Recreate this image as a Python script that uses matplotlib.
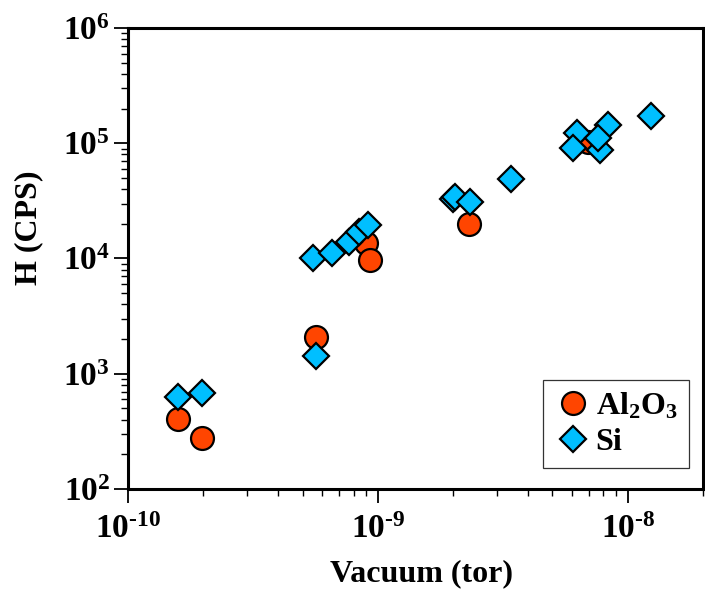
import matplotlib
matplotlib.use("Agg")
from matplotlib import pyplot as plt
from matplotlib.ticker import FuncFormatter, NullFormatter
import numpy as np

# values (vacuum in tor, H in counts per second)
al2o3_x = [1.58e-10, 1.98e-10, 5.68e-10, 9.0e-10, 9.29e-10, 2.31e-9, 6.94e-9]
al2o3_y = [405, 279, 2095, 1.35e4, 9.7e3, 2.01e4, 1.03e5]

si_x = [1.58e-10, 1.98e-10, 5.68e-10, 5.51e-10, 6.53e-10, 7.68e-10, 8.39e-10,
        9.15e-10, 2.0e-9, 2.03e-9, 2.33e-9, 3.4e-9, 6.24e-9, 6.04e-9,
        8.34e-9, 7.73e-9, 7.61e-9, 1.245e-8]
si_y = [632, 684, 1432, 1.0e4, 1.11e4, 1.40e4, 1.69e4,
        1.95e4, 3.3e4, 3.43e4, 3.1e4, 4.85e4, 1.22e5, 9.02e4,
        1.44e5, 8.71e4, 1.10e5, 1.72e5]

x_ticks = [1e-10, 1e-9, 1e-8]
y_ticks = [1e2, 1e3, 1e4, 1e5, 1e6]

plt.rcParams['font.family'] = ['Liberation Serif', 'DejaVu Serif']
plt.rcParams['font.weight'] = 'bold'
plt.rcParams['mathtext.fontset'] = 'custom'
plt.rcParams['mathtext.rm'] = 'Liberation Serif:bold'
plt.rcParams['mathtext.it'] = 'Liberation Serif:bold'
plt.rcParams['mathtext.bf'] = 'Liberation Serif:bold'
plt.rcParams['mathtext.default'] = 'rm'


def pow10(v, pos):
    e = int(round(np.log10(v)))
    if e < 0:
        # plain hyphen like the original, not a math minus
        return r'$10^{\text{-%d}}$' % (-e)
    return r'$10^{%d}$' % e


fig = plt.figure(figsize=(7.05, 5.92), dpi=100)
ax = fig.add_axes([0.1816, 0.174, 0.8154, 0.7787])

ax.plot(al2o3_x, al2o3_y, 'o', ms=16.5, mfc='#FF4500', mec='black', mew=1.6,
        label='Al$_2$O$_3$', zorder=3)
ax.plot(si_x, si_y, 'D', ms=13.5, mfc='#00BFFF', mec='black', mew=1.6,
        label='Si', zorder=4)

ax.set_xscale('log')
ax.set_yscale('log')
ax.set_xticks(x_ticks)
ax.set_yticks(y_ticks)
ax.set_xlim(1e-10, 2e-8)
ax.set_ylim(1e2, 1e6)
ax.xaxis.set_major_formatter(FuncFormatter(pow10))
ax.yaxis.set_major_formatter(FuncFormatter(pow10))
ax.xaxis.set_minor_formatter(NullFormatter())
ax.yaxis.set_minor_formatter(NullFormatter())

for s in ax.spines.values():
    s.set_linewidth(2.2)

ax.tick_params(which='major', direction='out', length=10, width=1.3,
               labelsize=24, colors='black')
ax.tick_params(which='minor', direction='out', length=5, width=1.0)
ax.tick_params(axis='x', which='major', pad=8)
ax.tick_params(axis='y', which='major', pad=3)
ax.tick_params(which='both', top=False, right=False)

ax.set_xlabel('Vacuum (tor)', fontsize=23, fontweight='bold')
ax.set_ylabel('H (CPS)', fontsize=23, fontweight='bold')
ax.xaxis.set_label_coords(0.51, -0.152)
ax.yaxis.set_label_coords(-0.148, 0.566)

leg = ax.legend(loc='lower right', bbox_to_anchor=(0.975, 0.045),
                fontsize=23, frameon=True, fancybox=False, handletextpad=0.1,
                handlelength=1.2, borderpad=0.35, labelspacing=0.2,
                borderaxespad=0)
leg.get_frame().set_edgecolor('black')
leg.get_frame().set_linewidth(0.9)

plt.savefig('out.png', dpi=100)
